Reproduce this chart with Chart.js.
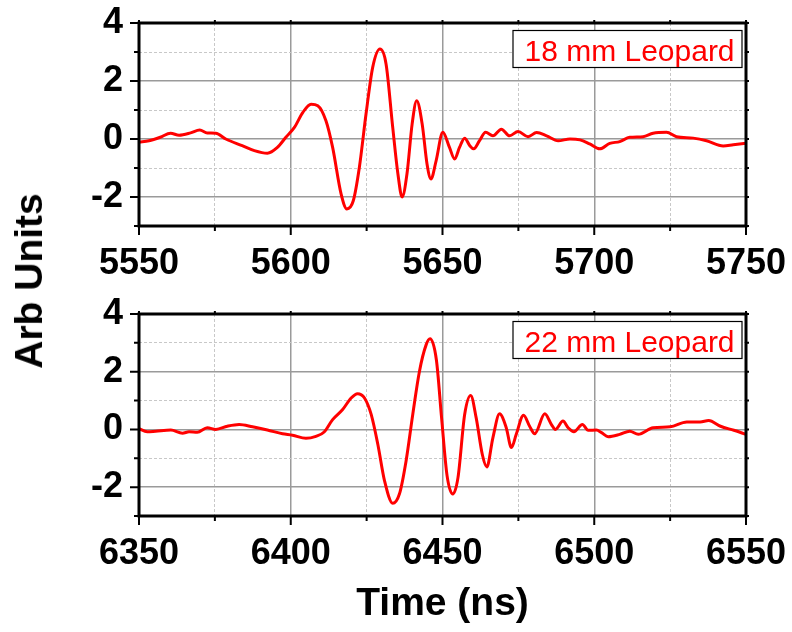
<!DOCTYPE html>
<html>
<head>
<meta charset="utf-8">
<script src="https://cdn.jsdelivr.net/npm/chart.js@4.4.1/dist/chart.umd.min.js"></script>
<style>
  body { margin: 0; background: #fff; }
  #wrap { position: relative; width: 792px; height: 632px; overflow: hidden; }
  canvas { position: absolute; left: 0; }
  #ylab {
    position: absolute; left: 29px; top: 281px;
    transform: translate(-50%, -50%) rotate(-90deg);
    font: bold 39px "Liberation Sans", Arial, sans-serif;
    white-space: nowrap; color: #000;
  }
</style>
</head>
<body>
<div id="wrap">
  <canvas id="topChart" width="792" height="300" style="top:0"></canvas>
  <canvas id="bottomChart" width="792" height="342" style="top:290px"></canvas>
  <div id="ylab">Arb Units</div>
</div>
<script>
// 18 mm sample (top panel)
const topLabel = "18 mm Leopard"
const topTime = [5550, 5553.3, 5557, 5560.4, 5563.2, 5567, 5570, 5572.5, 5575.3, 5578.6,
  5584, 5588, 5592.3, 5595.6, 5598.4, 5601.2, 5604, 5606.7, 5608.9, 5611.6,
  5613.8, 5616.6, 5618.5, 5620.6, 5622.6, 5624.8, 5627, 5629.4, 5631.4, 5633.6,
  5635.3, 5636.7, 5638.3, 5640, 5641.5, 5643.3, 5644.9, 5646.2, 5647.9, 5650.1,
  5652.3, 5654, 5655.6, 5657.3, 5659, 5660.3, 5662.2, 5664.2, 5666.6, 5669.4,
  5672.1, 5674.9, 5678.2, 5681, 5684.3, 5688.1, 5692, 5695.3, 5698.5, 5701.8,
  5705.1, 5708.4, 5711.7, 5716.1, 5719.4, 5723.8, 5727.1, 5732.6, 5737, 5742.5,
  5745.8, 5750]
const topAmp = [-0.11, -0.06, 0.06, 0.2, 0.13, 0.21, 0.31, 0.21, 0.2, 0.0,
  -0.23, -0.4, -0.49, -0.29, 0.06, 0.4, 0.92, 1.2, 1.15, 0.63,
  -0.29, -1.9, -2.41, -2.13, -0.98, 0.86, 2.47, 3.1, 2.59, 0.4,
  -1.2, -2.0, -1.2, 0.52, 1.32, 0.52, -0.86, -1.38, -0.75, 0.23,
  -0.29, -0.69, -0.29, 0.03, -0.23, -0.34, -0.06, 0.23, 0.11, 0.34,
  0.11, 0.26, 0.08, 0.22, 0.11, -0.06, 0, -0.03, -0.17, -0.34,
  -0.15, -0.09, 0.06, 0.08, 0.2, 0.23, 0.08, 0.03, -0.06, -0.24,
  -0.2, -0.15]

// 22 mm sample (bottom panel)
const bottomLabel = "22 mm Leopard"
const bottomTime = [6350, 6352.7, 6355.5, 6360.5, 6364.3, 6366.5, 6369.2, 6372.5, 6375.3, 6379.1,
  6383, 6387.4, 6392.3, 6397.3, 6400.6, 6405, 6408.3, 6411, 6413.8, 6417.1,
  6419.9, 6422, 6424.3, 6426.5, 6428.7, 6430.9, 6433.6, 6435.8, 6438, 6440.2,
  6442.4, 6444.6, 6445.9, 6448, 6449.7, 6451.5, 6453.4, 6455.1, 6457.3, 6459.3,
  6461.1, 6463.1, 6464.6, 6466.6, 6468.8, 6471, 6472.7, 6474.3, 6476.7, 6478.7,
  6480.4, 6483.7, 6485.9, 6487.2, 6489.7, 6491.4, 6493.3, 6496.1, 6498, 6500.7,
  6502.4, 6504.6, 6508.4, 6511.7, 6514.5, 6519.4, 6525, 6530.5, 6534.9, 6537.7,
  6541.6, 6546, 6550]
const bottomAmp = [0.03, -0.08, -0.06, -0.02, -0.13, -0.08, -0.1, 0.06, 0, 0.11,
  0.17, 0.09, -0.02, -0.15, -0.2, -0.31, -0.24, -0.09, 0.34, 0.69,
  1.09, 1.24, 1.09, 0.52, -0.52, -1.78, -2.56, -2.24, -1.09, 0.52,
  2.01, 2.93, 3.14, 2.4, 0.4, -1.6, -2.24, -1.67, 0.52, 1.18,
  0.4, -0.86, -1.3, -0.29, 0.54, 0.06, -0.63, -0.17, 0.49, 0.11,
  -0.15, 0.54, 0.17, 0, 0.29, 0.06, -0.08, 0.17, -0.03, -0.02,
  -0.11, -0.25, -0.17, -0.06, -0.17, 0.06, 0.09, 0.26, 0.26, 0.31,
  0.11, -0.03, -0.17]

const yTicks = { min: -3, max: 4, step: 1 }
const xStep = 25

const RED = "#ff0000"
const FONT = '"Liberation Sans", Arial, sans-serif'

// black box around the plot + outward tick marks
const framePlugin = {
  id: "frame",
  afterDatasetsDraw(chart) {
    const { ctx, chartArea: a, scales: { x, y } } = chart
    ctx.save()
    ctx.strokeStyle = "#000"
    ctx.lineWidth = 3
    ctx.strokeRect(a.left, a.top, a.right - a.left, a.bottom - a.top)
    ctx.lineWidth = 2
    ctx.beginPath()
    x.ticks.forEach((t) => {
      const px = x.getPixelForValue(t.value)
      const len = t.value % 50 === 0 ? 9 : 5
      ctx.moveTo(px, a.bottom)
      ctx.lineTo(px, a.bottom + len)
      ctx.moveTo(px, a.top)
      ctx.lineTo(px, a.top - 3)
    })
    y.ticks.forEach((t) => {
      const py = y.getPixelForValue(t.value)
      const len = t.value % 2 === 0 ? 9 : 5
      ctx.moveTo(a.left, py)
      ctx.lineTo(a.left - len, py)
      ctx.moveTo(a.right, py)
      ctx.lineTo(a.right + 3, py)
    })
    ctx.stroke()
    ctx.restore()
  },
}

// boxed sample name in the upper right corner
const boxLabelPlugin = {
  id: "boxLabel",
  afterDraw(chart, args, opts) {
    const { ctx, chartArea: a } = chart
    const text = chart.data.datasets[0].label
    const x0 = a.right - opts.right - opts.width
    const y0 = a.top + opts.top
    ctx.save()
    ctx.fillStyle = "#fff"
    ctx.fillRect(x0, y0, opts.width, opts.height)
    ctx.strokeStyle = "#000"
    ctx.lineWidth = 1.2
    ctx.strokeRect(x0, y0, opts.width, opts.height)
    ctx.font = "30px " + FONT
    ctx.fillStyle = RED
    ctx.textAlign = "center"
    ctx.textBaseline = "alphabetic"
    ctx.fillText(text, x0 + opts.width / 2 + 2, y0 + 30)
    ctx.restore()
  },
}

function gridColor(ctx, majorEvery) {
  return ctx.tick && ctx.tick.value % majorEvery === 0 ? "#9a9a9a" : "#c8c8c8"
}
function gridDash(ctx, majorEvery) {
  return ctx.tick && ctx.tick.value % majorEvery !== 0 ? [3, 2] : []
}
function gridWidth(ctx, majorEvery) {
  return ctx.tick && ctx.tick.value % majorEvery === 0 ? 1.5 : 1
}

// the layout should not grow because of tick label overhang
function noScalePadding(s) {
  s.paddingTop = 0
  s.paddingBottom = 0
  s.paddingLeft = 0
  s.paddingRight = 0
}

function makePanel(id, label, times, amps, xMin, xMax, padTop, xHeight, title) {
  return new Chart(document.getElementById(id), {
    type: "line",
    data: {
      datasets: [
        {
          label: label,
          data: times.map((t, i) => ({ x: t, y: amps[i] })),
          borderColor: RED,
          borderWidth: 3,
          pointRadius: 0,
          cubicInterpolationMode: "monotone",
        },
      ],
    },
    options: {
      responsive: false,
      animation: false,
      devicePixelRatio: 1,
      layout: { padding: { top: padTop, right: 46, left: 0, bottom: 0 } },
      plugins: {
        legend: { display: false },
        tooltip: { enabled: false },
        boxLabel: { width: 229, height: 37, top: 7.5, right: 4 },
      },
      scales: {
        x: {
          type: "linear",
          min: xMin,
          max: xMax,
          afterFit: (s) => { s.height = xHeight; noScalePadding(s) },
          ticks: {
            stepSize: xStep,
            autoSkip: false,
            maxRotation: 0,
            padding: 16,
            color: "#000",
            font: { family: FONT, size: 36, weight: "bold" },
            callback: (v) => (v % 50 === 0 ? String(v) : ""),
          },
          grid: {
            drawTicks: false,
            color: (c) => gridColor(c, 50),
            lineWidth: (c) => gridWidth(c, 50),
          },
          border: { display: false, dash: (c) => gridDash(c, 50) },
          title: title,
        },
        y: {
          min: yTicks.min,
          max: yTicks.max,
          afterFit: (s) => { s.width = 139; noScalePadding(s) },
          ticks: {
            stepSize: yTicks.step,
            autoSkip: false,
            padding: 16,
            color: "#000",
            font: { family: FONT, size: 36, weight: "bold" },
            callback: (v) => (v % 2 === 0 ? String(v) : ""),
          },
          grid: {
            drawTicks: false,
            color: (c) => gridColor(c, 2),
            lineWidth: (c) => gridWidth(c, 2),
          },
          border: { display: false, dash: (c) => gridDash(c, 2) },
        },
      },
    },
    plugins: [framePlugin, boxLabelPlugin],
  })
}

makePanel("topChart", topLabel, topTime, topAmp, 5550, 5750, 23, 74, { display: false })
makePanel("bottomChart", bottomLabel, bottomTime, bottomAmp, 6350, 6550, 24, 116, {
  display: true,
  text: "Time (ns)",
  color: "#000",
  font: { family: FONT, size: 39, weight: "bold" },
  padding: { top: 0, bottom: 4 },
})
</script>
</body>
</html>
